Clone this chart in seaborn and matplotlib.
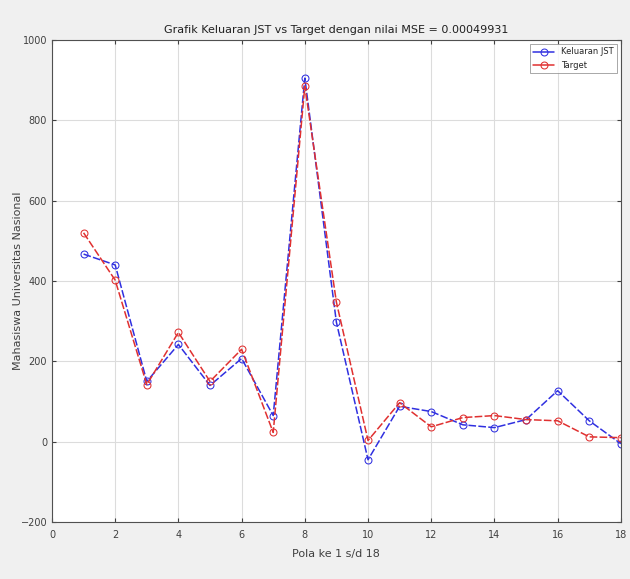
import numpy as np
import pandas as pd
import seaborn as sns
import matplotlib.pyplot as plt

# data
pola = list(range(1, 19))
keluaran_jst = [467, 440, 150, 242, 140, 207, 65, 905, 297, -45, 88, 75, 42, 35, 55, 127, 52, -5]
target = [520, 402, 142, 272, 150, 230, 23, 885, 347, 3, 97, 37, 60, 65, 55, 52, 12, 10]

x_ticks = list(range(0, 20, 2))
y_ticks = list(range(-200, 1200, 200))

sns.set_style("whitegrid")
plt.rcParams['font.family'] = ['Liberation Sans Narrow', 'DejaVu Sans']

fig = plt.figure(figsize=(6.3, 5.79), dpi=100, facecolor='#f0f0f0')
ax = fig.add_axes([0.0825, 0.0984, 0.903, 0.8326])
ax.set_facecolor('white')

df = pd.DataFrame({'pola': pola, 'jst': keluaran_jst, 'target': target})

sns.lineplot(data=df, x='pola', y='jst', ax=ax, color='#3030e0', marker='o',
             markersize=5, markerfacecolor='none', markeredgecolor='#3030e0',
             linestyle='--', dashes=False, linewidth=1.1, label='Keluaran JST')
sns.lineplot(data=df, x='pola', y='target', ax=ax, color='#e03030', marker='o',
             markersize=5, markerfacecolor='none', markeredgecolor='#e03030',
             linestyle='--', dashes=False, linewidth=1.1, label='Target')
for line in ax.get_lines():
    line.set_dashes((5, 1.5))

ax.set_xlim(0, 18)
ax.set_ylim(-200, 1000)
ax.set_xticks(x_ticks)
ax.set_yticks(y_ticks)
ax.tick_params(direction='in', length=3, labelsize=7, colors='#404040',
               top=True, right=True, bottom=True, left=True)
ax.tick_params(axis='x', pad=6)
ax.grid(True, color='#dcdcdc', linewidth=0.8)
for s in ax.spines.values():
    s.set_color('#505050')
    s.set_linewidth(0.8)

ax.set_title('Grafik Keluaran JST vs Target dengan nilai MSE = 0.00049931',
             fontsize=8, color='#202020', pad=5)
ax.set_xlabel('Pola ke 1 s/d 18', fontsize=8, color='#404040', labelpad=6)
ax.set_ylabel('Mahasiswa Universitas Nasional', fontsize=8, color='#404040', labelpad=-2)

leg = ax.legend(loc='upper right', fontsize=6, frameon=True, fancybox=False,
                edgecolor='#808080', handlelength=2.5)
for h in leg.get_lines():
    h.set_linestyle('-')
leg.get_frame().set_linewidth(0.6)

fig.savefig('out.png', dpi=100, facecolor=fig.get_facecolor())
